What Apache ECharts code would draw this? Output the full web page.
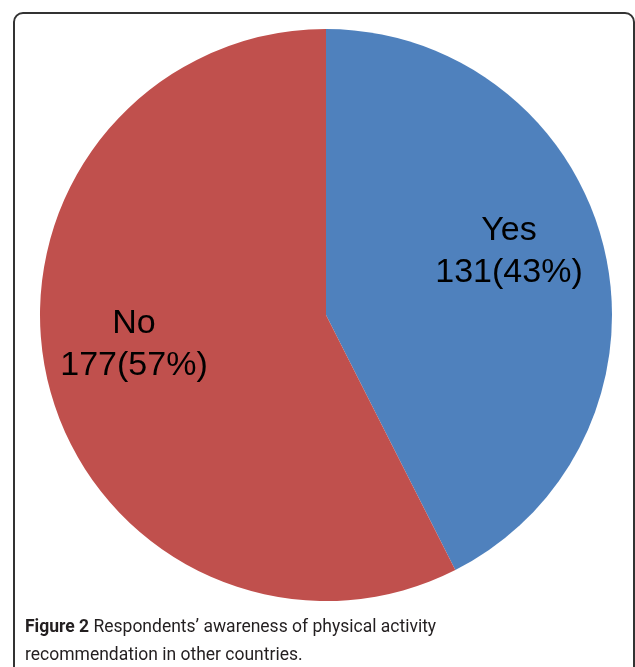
<!DOCTYPE html>
<html><head><meta charset="utf-8">
<script src="https://cdn.jsdelivr.net/npm/echarts@6/dist/echarts.min.js"></script>
<style>html,body{margin:0;padding:0;background:#fff}#c{width:635px;height:667px}</style>
</head><body><div id="c"></div>
<script>
const categories = ['Yes', 'No'];
const counts = [131, 177];
const percents = ['43%', '57%'];
const colors = ['#4F81BD', '#C0504D'];
const labelOffsets = [[41, -29], [-50, -4]];

const chart = echarts.init(document.getElementById('c'), null, {renderer: 'canvas'});
chart.setOption({
  animation: false,
  backgroundColor: '#fff',
  title: {
    left: 25, top: 614, padding: 0,
    text: '{b|Figure 2} Respondents’ awareness of physical activity\nrecommendation in other countries.',
    textStyle: {
      fontFamily: 'Roboto', fontSize: 17.5, fontWeight: 'normal', color: '#231f20', lineHeight: 28,
      rich: { b: { fontFamily: 'Roboto', fontSize: 17.5, fontWeight: 'bold', color: '#231f20', lineHeight: 28 } }
    }
  },
  graphic: [{
    type: 'rect', silent: true, z: -1,
    shape: {x: 14, y: 13, width: 620, height: 720, r: 9},
    style: {fill: null, stroke: '#333', lineWidth: 2}
  }],
  series: [{
    type: 'pie',
    center: [326, 315],
    radius: [0, 286],
    startAngle: 90,
    clockwise: true,
    silent: true,
    itemStyle: {borderWidth: 0},
    label: {
      show: true, position: 'inside',
      fontFamily: 'Liberation Sans', fontSize: 34, lineHeight: 42, color: '#000',
      formatter: p => p.name + '\n' + p.value + '(' + percents[p.dataIndex] + ')'
    },
    labelLine: {show: false},
    data: categories.map((n, i) => ({
      name: n, value: counts[i],
      itemStyle: {color: colors[i]},
      label: {offset: labelOffsets[i]}
    }))
  }]
});
</script></body></html>
